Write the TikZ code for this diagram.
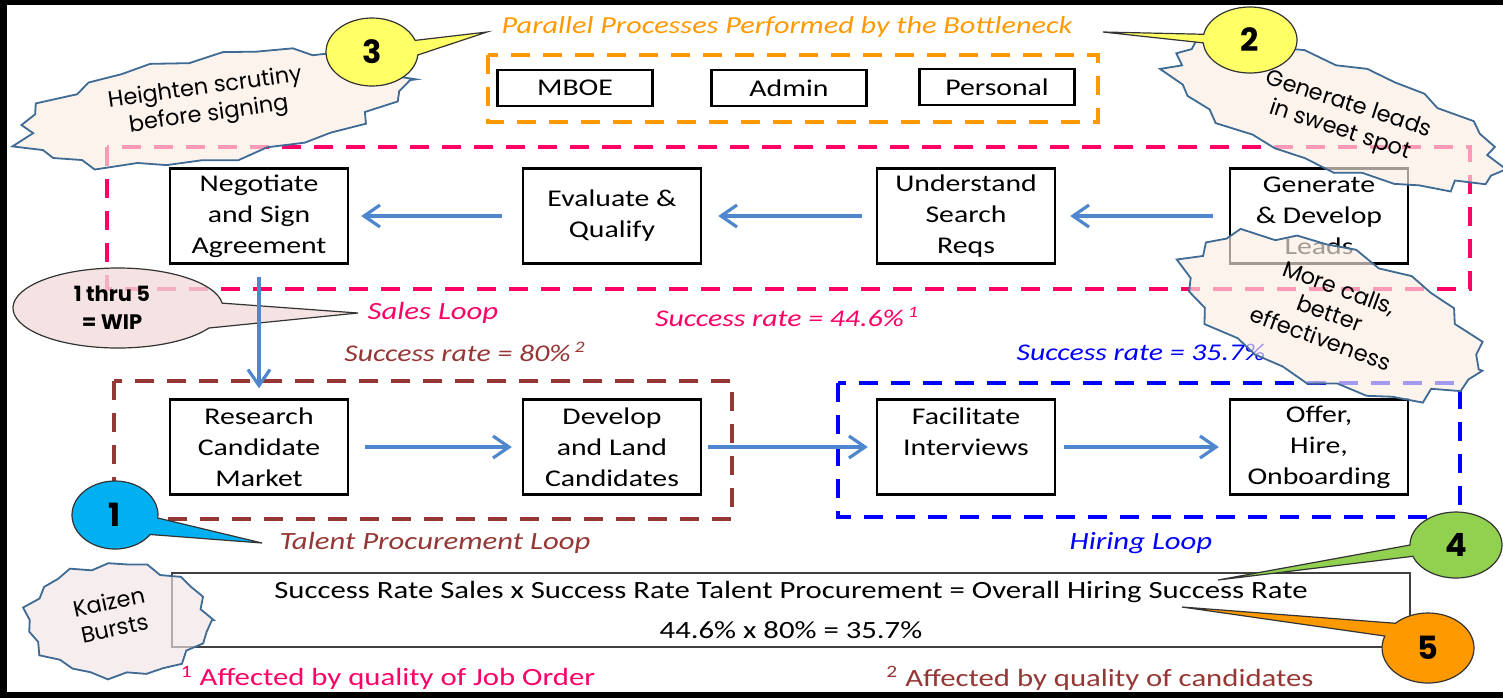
\documentclass[tikz,border=0pt]{standalone}
\usepackage{fontspec}
\setmainfont{Carlito}[FakeStretch=1.24]
\newfontfamily\comicfont{Poppins}
\usetikzlibrary{arrows.meta,shapes,positioning}
\tikzset{>={Straight Barb[length=8pt,width=11pt]}}

\definecolor{salespink}{HTML}{FF0066}
\definecolor{talentbrown}{HTML}{953735}
\definecolor{hireblue}{HTML}{0000FF}
\definecolor{bottleorange}{HTML}{FF9900}
\definecolor{flowblue}{HTML}{4F87CF}
\definecolor{burstfill}{HTML}{FBEEE4}
\definecolor{burstline}{HTML}{3E6A94}
\definecolor{kaizenfill}{HTML}{F2E4E6}
\definecolor{wipfill}{HTML}{F2DCDB}
\definecolor{calloutyellow}{HTML}{FFFF66}
\definecolor{calloutblue}{HTML}{00B0F0}
\definecolor{calloutgreen}{HTML}{92D050}
\definecolor{calloutorange}{HTML}{FF9900}

\tikzset{
  stepbox/.style={draw, line width=1.2pt, minimum width=89pt, minimum height=47.5pt,
    inner sep=1pt, align=center, font=\fontsize{12}{15.5}\selectfont},
  taskbox/.style={draw, line width=1.1pt, minimum width=77.5pt, minimum height=18pt,
    inner sep=1pt, font=\fontsize{12}{14}\selectfont},
  loopframe/.style={line width=2pt, dash pattern=on 9.5pt off 6.5pt},
  flow/.style={->, draw=flowblue, line width=1.6pt},
  looplabel/.style={font=\itshape\fontsize{12.4}{14}\selectfont},
  ratelabel/.style={font=\itshape\fontsize{12}{14}\selectfont},
  notelabel/.style={font=\fontsize{12.4}{14}\selectfont},
  burst/.style={draw=burstline, line width=0.9pt, fill=burstfill, fill opacity=0.65},
  bursttext/.style={font=\comicfont\fontsize{11.2}{13.5}\selectfont, align=center},
  callout/.style={draw=black!80, line width=0.6pt},
  numlabel/.style={font=\comicfont\bfseries\fontsize{16}{18}\selectfont},
}

% jagged burst: center, x radius, y radius, rotation, points, fill, spike depth
\newcommand\drawburst[7]{%
  \begin{scope}[shift={#1}, rotate=#4]
    \draw[burst, fill=#6] (#2,0) \foreach \k in {1,...,#5}
      { -- ({(1-#7*mod(\k,2)+0.035*sin(\k*97))*#2*cos(360*\k/#5)},
            {(1-#7*mod(\k,2)+0.035*sin(\k*97))*#3*sin(360*\k/#5)}) } -- cycle;
  \end{scope}}

\begin{document}
\begin{tikzpicture}[x=0.5pt,y=-0.5pt]
\useasboundingbox (0,0) rectangle (1503,698);
\fill[white] (0,0) rectangle (1503,698);

% bottleneck
\node[font=\itshape\fontsize{12.2}{14}\selectfont, text=bottleorange] (bottletitle) at (787,27)
  {Parallel Processes Performed by the Bottleneck};
\draw[loopframe, bottleorange] (488,55) rectangle (1098,122);
\node[taskbox] (mboe) at (575,88) {MBOE};
\node[taskbox] (admin) at (789,88) {Admin};
\node[taskbox] (personal) at (997,87) {Personal};

% loops
\draw[loopframe, salespink] (107,147) rectangle (1470,289);
\draw[loopframe, talentbrown] (114,381) rectangle (732,519);
\draw[loopframe, hireblue] (838,383) rectangle (1460,517);

\node[stepbox] (neg) at (259,216) {Negotiate\\and Sign\\Agreement};
\node[stepbox] (eval) at (612,216) {Evaluate \&\\Qualify};
\node[stepbox] (und) at (966,216) {Understand\\Search\\Reqs};
\node[stepbox] (gen) at (1319,216) {Generate\\\& Develop\\Leads};
\node[stepbox] (res) at (259,447) {Research\\Candidate\\Market};
\node[stepbox] (dev) at (612,447) {Develop\\and Land\\Candidates};
\node[stepbox] (fac) at (966,447) {Facilitate\\Interviews\\~};
\node[stepbox] (off) at (1319,447) {Offer,\\Hire,\\Onboarding};

\node[looplabel, text=salespink] (saleslabel) at (433,313) {Sales Loop};
\node[ratelabel, text=salespink] (salesrate) at (787,317) {Success rate = 44.6\%\,\textsuperscript{1}};
\node[ratelabel, text=talentbrown] (talentrate) at (465,352) {Success rate = 80\%\,\textsuperscript{2}};
\node[ratelabel, text=hireblue] (hirerate) at (1141,352) {Success rate = 35.7\%};
\node[looplabel, text=talentbrown] (talentlabel) at (435,543) {Talent Procurement Loop};
\node[looplabel, text=hireblue] (hirelabel) at (1141,543) {Hiring Loop};

% totals
\node[draw=black!75, line width=0.8pt, minimum width=619pt, minimum height=37pt, align=center,
  font=\fontsize{12.4}{20}\selectfont] (rates) at (791,610)
  {Success Rate Sales x Success Rate Talent Procurement = Overall Hiring Success Rate\\
   44.6\% x 80\% = 35.7\%};
\node[notelabel, text=salespink] (note1) at (388,678)
  {\textsuperscript{1} Affected by quality of Job Order};
\node[notelabel, text=talentbrown] (note2) at (1100,678)
  {\textsuperscript{2} Affected by quality of candidates};

% WIP callout
\draw[callout, fill=wipfill, fill opacity=0.8] (118,308) ++(30:105 and 40)
  arc[start angle=30, end angle=353, x radius=105, y radius=40] -- (358,313) -- cycle;
\node[font=\comicfont\bfseries\fontsize{10.5}{14}\selectfont, align=center] (wip) at (112,308) {1 thru 5\\= WIP};

% flows
\draw[flow, shorten <=8pt, shorten >=7pt] (gen) -- (und);
\draw[flow, shorten <=7pt, shorten >=8pt] (und) -- (eval);
\draw[flow, shorten <=10pt, shorten >=6pt] (eval) -- (neg);
\draw[flow, shorten <=6pt, shorten >=5pt] (neg) -- (res);
\draw[flow, shorten <=8pt, shorten >=5pt] (res) -- (dev);
\draw[flow, shorten <=3pt, shorten >=4pt] (dev) -- (fac);
\draw[flow, shorten <=4pt, shorten >=5pt] (fac) -- (off);

% kaizen bursts
\drawburst{(212,108)}{200}{54}{8}{34}{burstfill}{0.08}
\drawburst{(1335,115)}{178}{54}{-18}{34}{burstfill}{0.08}
\drawburst{(1332,316)}{160}{70}{-20}{32}{burstfill}{0.08}
\drawburst{(118,620)}{94}{58}{0}{30}{kaizenfill}{0.07}
\node[bursttext, rotate=8] (heighten) at (207,102) {Heighten scrutiny\\before signing};
\node[bursttext, rotate=-18] (sweetspot) at (1344,118) {Generate leads\\in sweet spot};
\node[bursttext, rotate=-20] (morecalls) at (1330,313) {More calls,\\better\\effectiveness};
\node[bursttext, rotate=12] (kaizen) at (112,615) {Kaizen\\Bursts};

% numbered callouts
\draw[callout, fill=calloutyellow] (372,52) ++(5:46 and 34)
  arc[start angle=5, end angle=340, x radius=46, y radius=34] -- (487,32) -- cycle;
\draw[callout, fill=calloutyellow] (1250,40) ++(190:47 and 33)
  arc[start angle=190, end angle=535, x radius=47, y radius=33] -- (1103,32) -- cycle;
\draw[callout, fill=calloutblue] (115,515) ++(35:43 and 34)
  arc[start angle=35, end angle=365, x radius=43, y radius=34] -- (262,543) -- cycle;
\draw[callout, fill=calloutgreen] (1456,545) ++(180:46 and 33)
  arc[start angle=180, end angle=520, x radius=46, y radius=33] -- (1218,580) -- cycle;
\draw[callout, fill=calloutorange] (1428,648) ++(225:46 and 35)
  arc[start angle=225, end angle=560, x radius=46, y radius=35] -- (1182,607) -- cycle;
\node[numlabel] (n3) at (372,52) {3};
\node[numlabel] (n2) at (1250,40) {2};
\node[numlabel] (n1) at (115,515) {1};
\node[numlabel] (n4) at (1456,545) {4};
\node[numlabel] (n5) at (1428,648) {5};

% frame
\fill[black] (0,0) rectangle (1503,5);
\fill[black] (0,0) rectangle (7,698);
\fill[black] (0,692) rectangle (1503,698);
\end{tikzpicture}
\end{document}
